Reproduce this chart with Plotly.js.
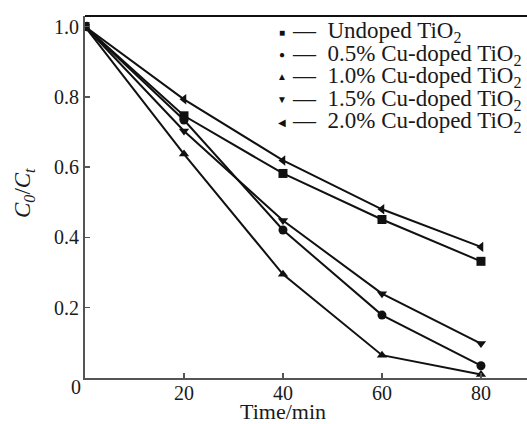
<!DOCTYPE html>
<html><head><meta charset="utf-8">
<script src="https://cdn.plot.ly/plotly-3.0.1.min.js"></script>
<style>html,body{margin:0;padding:0;background:#fff}#chart{width:527px;height:424px}</style>
</head><body><div id="chart"></div>
<script>
const time = [0, 20, 40, 60, 80];
const undoped = [1.0, 0.746, 0.582, 0.451, 0.332];
const cu05 = [1.0, 0.734, 0.421, 0.179, 0.035];
const cu10 = [1.0, 0.637, 0.295, 0.065, 0.010];
const cu15 = [1.0, 0.703, 0.448, 0.240, 0.098];
const cu20 = [1.0, 0.793, 0.619, 0.480, 0.373];
const names = ['Undoped TiO<sub>2</sub>', '0.5% Cu-doped TiO<sub>2</sub>', '1.0% Cu-doped TiO<sub>2</sub>', '1.5% Cu-doped TiO<sub>2</sub>', '2.0% Cu-doped TiO<sub>2</sub>'];
const symbols = ['square', 'circle', 'triangle-up', 'triangle-down', 'triangle-left'];
const legendGlyphs = ['■', '●', '▲', '▼', '◀'];
const xTicks = [20, 40, 60, 80];
const yTicks = [0.2, 0.4, 0.6, 0.8, 1.0];
const yTickText = ['0.2', '0.4', '0.6', '0.8', '1.0'];

const series = [undoped, cu05, cu10, cu15, cu20];
const traces = series.map((s, i) => ({
  x: time, y: s, type: 'scatter', mode: 'lines+markers', name: names[i],
  line: {color: '#111', width: 2},
  marker: {symbol: symbols[i], size: 9, color: '#111'},
  showlegend: false
}));

const fam = 'Liberation Serif, Times New Roman, serif';
const font = {family: fam, size: 20, color: '#1a1a1a'};
const bigFont = {family: fam, size: 23, color: '#1a1a1a'};
const annotations = [];
names.forEach((n, i) => {
  const yy = (378 - (32 + i * 22.5)) / 362;
  annotations.push({xref: 'paper', yref: 'paper', x: (282 - 85) / 442, y: yy,
    xanchor: 'center', yanchor: 'middle', showarrow: false,
    text: legendGlyphs[i], font: {family: fam, size: 10, color: '#111'}});
  annotations.push({xref: 'paper', yref: 'paper', x: (290 - 85) / 442, y: yy,
    xanchor: 'left', yanchor: 'middle', showarrow: false,
    text: '—\u2002' + n, font: bigFont});
});
annotations.push({xref: 'paper', yref: 'paper', x: (76 - 85) / 442, y: (378 - 387) / 362,
  xanchor: 'center', yanchor: 'middle', showarrow: false, text: '0', font: font});
annotations.push({xref: 'x', yref: 'paper', x: 40, y: (378 - 411) / 362,
  xanchor: 'center', yanchor: 'middle', showarrow: false, text: 'Time/min', font: {family: fam, size: 22, color: '#1a1a1a'}});
annotations.push({xref: 'paper', yref: 'paper', x: (24 - 85) / 442, y: (378 - 193) / 362,
  xanchor: 'center', yanchor: 'middle', showarrow: false, textangle: -90,
  text: '<i>C</i><sub><i>0</i></sub>/<i>C</i><sub><i>t</i></sub>', font: bigFont});

const layout = {
  width: 527, height: 424,
  margin: {l: 85, r: 0, t: 16, b: 46},
  paper_bgcolor: '#fff', plot_bgcolor: '#fff',
  font: font,
  showlegend: false,
  xaxis: {range: [0, 89.3], tickvals: xTicks, ticks: 'inside', ticklen: 5, tickwidth: 1.5,
    tickcolor: '#555', showline: true, linecolor: '#555', linewidth: 2, showgrid: false,
    zeroline: false, tickfont: font, fixedrange: true, ticklabelstandoff: -4},
  yaxis: {range: [0, 1.03], tickvals: yTicks, ticktext: yTickText, ticks: 'inside', ticklen: 5, tickwidth: 1.5,
    tickcolor: '#555', showline: true, linecolor: '#555', linewidth: 2, showgrid: false,
    zeroline: false, tickfont: font, fixedrange: true},
  shapes: [{type: 'line', xref: 'paper', yref: 'paper', x0: 0, x1: 1, y0: 1, y1: 1, line: {color: '#111', width: 2}}],
  annotations: annotations
};
Plotly.newPlot('chart', traces, layout, {displayModeBar: false, staticPlot: true});
</script></body></html>
